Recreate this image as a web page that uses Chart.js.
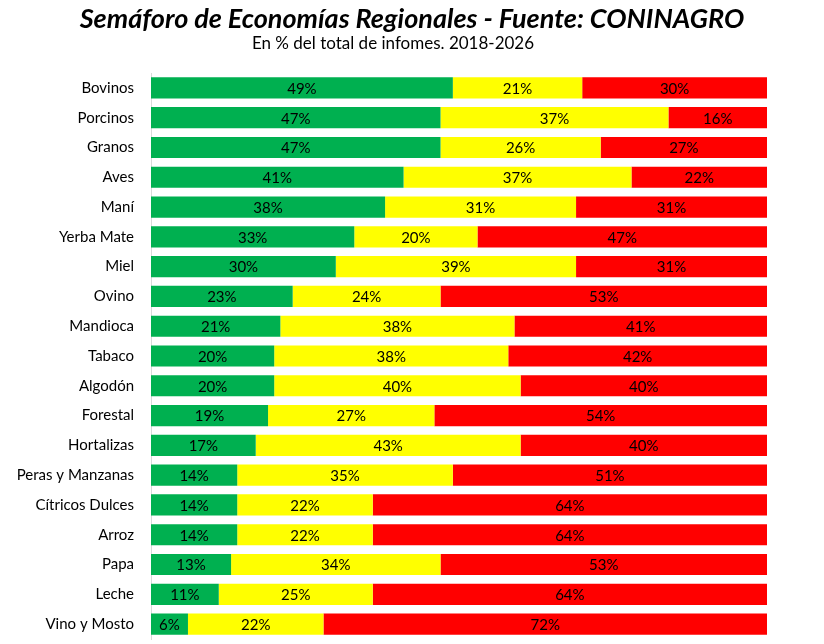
<!DOCTYPE html>
<html>
<head>
<meta charset="utf-8">
<script src="https://cdn.jsdelivr.net/npm/chart.js@4"></script>
<style>
  html, body { margin: 0; padding: 0; background: #fff; overflow: hidden; }
  #wrap { position: relative; width: 824px; height: 644px; }
  #wrap canvas { position: absolute; left: 0; top: 0; }
  .titulo { position: absolute; left: 0; width: 824px; text-align: center; color: #000;
            font-family: Lato, "Open Sans", sans-serif; white-space: nowrap; }
  #t1 { top: 1px; font-size: 27px; font-weight: bold; font-style: italic; }
  #t2 { top: 32px; left: -19px; font-size: 17px; }
</style>
</head>
<body>
<div id="wrap">
  <canvas id="SemaforoChart" width="824" height="644"></canvas>
  <div class="titulo" id="t1">Semáforo de Economías Regionales - Fuente: CONINAGRO</div>
  <div class="titulo" id="t2">En % del total de infomes. 2018-2026</div>
</div>
<script>
// datos (% del total de informes)
const categorias = ['Bovinos', 'Porcinos', 'Granos', 'Aves', 'Maní', 'Yerba Mate', 'Miel', 'Ovino', 'Mandioca', 'Tabaco',
    'Algodón', 'Forestal', 'Hortalizas', 'Peras y Manzanas', 'Cítricos Dulces', 'Arroz', 'Papa', 'Leche', 'Vino y Mosto'];
const verde = [49, 47, 47, 41, 38, 33, 30, 23, 21, 20, 20, 19, 17, 14, 14, 14, 13, 11, 6];
const amarillo = [21, 37, 26, 37, 31, 20, 39, 24, 38, 38, 40, 27, 43, 35, 22, 22, 34, 25, 22];
const rojo = [30, 16, 27, 22, 31, 47, 31, 53, 41, 42, 40, 54, 40, 51, 64, 64, 53, 64, 72];

const fuente = 'Lato, "Open Sans", sans-serif';

// etiquetas dentro de cada barra
const etiquetas = {
    id: 'etiquetas',
    afterDatasetsDraw(chart) {
        const ctx = chart.ctx;
        ctx.save();
        ctx.font = '15px ' + fuente;
        ctx.fillStyle = '#000';
        ctx.textAlign = 'center';
        ctx.textBaseline = 'middle';
        chart.data.datasets.forEach((ds, i) => {
            chart.getDatasetMeta(i).data.forEach((bar, j) => {
                const x = (bar.x + bar.base) / 2;
                ctx.fillText(ds.data[j] + '%', x, bar.y + 1);
            });
        });
        ctx.restore();
    }
};

new Chart(document.getElementById('SemaforoChart'), {
    type: 'bar',
    data: {
        labels: categorias,
        datasets: [
            { data: verde, backgroundColor: '#00B050' },
            { data: amarillo, backgroundColor: '#FFFF00' },
            { data: rojo, backgroundColor: '#FF0000' }
        ]
    },
    options: {
        indexAxis: 'y',
        responsive: false,
        animation: false,
        devicePixelRatio: 1,
        datasets: {
            bar: { barPercentage: 0.71, categoryPercentage: 1 }
        },
        layout: {
            padding: { left: 0, right: 57, top: 73, bottom: 5 }
        },
        scales: {
            x: {
                stacked: true,
                min: 0,
                max: 100,
                display: false
            },
            y: {
                stacked: true,
                grid: { display: false },
                border: { display: true, color: '#d9d9d9', width: 1 },
                ticks: {
                    color: '#000',
                    padding: 9,
                    font: { family: fuente, size: 15 }
                },
                afterFit(scale) {
                    scale.width = 151;
                    scale.paddingTop = 0;
                    scale.paddingBottom = 0;
                }
            }
        },
        plugins: {
            legend: { display: false },
            tooltip: { enabled: false }
        }
    },
    plugins: [etiquetas]
});
</script>
</body>
</html>
